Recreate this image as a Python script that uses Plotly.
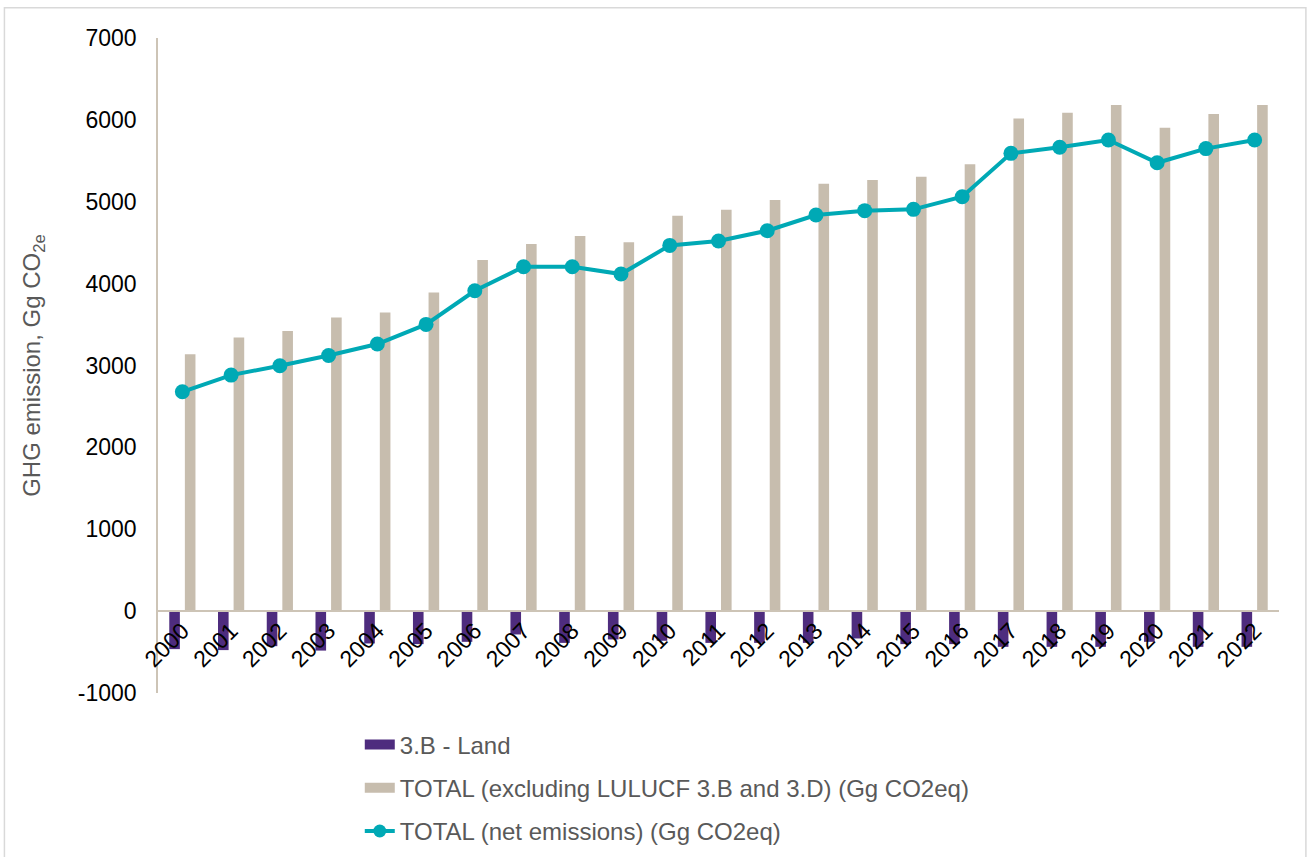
import plotly.graph_objects as go

# Annual greenhouse gas inventory, Gg CO2 equivalent
years = [str(y) for y in range(2000, 2023)]
land_3b = [-464, -476, -428, -482, -395, -403, -375, -285, -388, -346, -362,
           -388, -388, -388, -334, -403, -403, -436, -436, -436, -375, -436, -436]
total_excl_lulucf = [3136, 3343, 3420, 3587, 3648, 3893, 4288, 4483, 4581, 4504, 4829,
                     4903, 5021, 5220, 5265, 5306, 5457, 6018, 6087, 6181, 5904, 6071, 6181]
total_net = [2679, 2883, 2997, 3123, 3262, 3502, 3913, 4206, 4206, 4117, 4467,
             4520, 4646, 4838, 4891, 4907, 5061, 5591, 5665, 5754, 5476, 5649, 5754]

y_tick_values = [-1000, 0, 1000, 2000, 3000, 4000, 5000, 6000, 7000]
y_tick_labels = ["-1000", "0", "1000", "2000", "3000", "4000", "5000", "6000", "7000"]

names = ["3.B - Land",
         "TOTAL (excluding LULUCF 3.B and 3.D) (Gg CO2eq)",
         "TOTAL (net emissions) (Gg CO2eq)"]

PURPLE = "#4E2C7E"
BEIGE = "#C7BDAE"
TEAL = "#00A9B5"
AXIS = "#CDC4B6"
FONT = "Liberation Sans, Arial, sans-serif"

fig = go.Figure()
fig.add_trace(go.Bar(x=years, y=land_3b, name=names[0], marker_color=PURPLE,
                     marker_line_width=0, showlegend=False))
fig.add_trace(go.Bar(x=years, y=total_excl_lulucf, name=names[1], marker_color=BEIGE,
                     marker_line_width=0, showlegend=False))
fig.add_trace(go.Scatter(x=years, y=total_net, name=names[2], mode="lines+markers",
                         line=dict(color=TEAL, width=4),
                         marker=dict(color=TEAL, size=15), showlegend=False))

# Legend entries with wide flat swatches
fig.add_trace(go.Scatter(x=[None], y=[None], name=names[0], mode="lines",
                         line=dict(color=PURPLE, width=13), legendgroup="a"))
fig.add_trace(go.Scatter(x=[None], y=[None], name=names[1], mode="lines",
                         line=dict(color=BEIGE, width=13), legendgroup="b"))
fig.add_trace(go.Scatter(x=[None], y=[None], name=names[2], mode="lines+markers",
                         line=dict(color=TEAL, width=4),
                         marker=dict(color=TEAL, size=13), legendgroup="c"))

fig.update_layout(
    width=1309, height=857,
    margin=dict(l=158, r=30, t=38, b=164, autoexpand=False),
    paper_bgcolor="white", plot_bgcolor="white",
    font=dict(family=FONT, size=23, color="black"),
    barmode="group", bargap=0.36, bargroupgap=0.32,
    legend=dict(x=0.18, y=-0.045, xanchor="left", yanchor="top",
                orientation="v", tracegroupgap=9,
                font=dict(family=FONT, size=24, color="#595959"),
                bgcolor="rgba(0,0,0,0)"),
    xaxis=dict(type="category", range=[-0.5, 22.5], anchor="free", position=0.125,
               automargin=False,
               showline=True, linecolor=AXIS, linewidth=2,
               ticks="", tickangle=-45, ticklabelstandoff=-4,
               showgrid=False, zeroline=False,
               tickfont=dict(family=FONT, size=23, color="black")),
    yaxis=dict(range=[-1000, 7000], tickvals=y_tick_values, ticktext=y_tick_labels,
               automargin=False,
               showline=True, linecolor=AXIS, linewidth=1.5,
               ticks="", showgrid=False, zeroline=False,
               ticklabelstandoff=15,
               tickfont=dict(family=FONT, size=23, color="black"),
               title=dict(text="GHG emission, Gg CO<sub>2e</sub>",
                          font=dict(family=FONT, size=24, color="#595959"),
                          standoff=30)),
    shapes=[dict(type="rect", xref="paper", yref="paper",
                 x0=-0.137, x1=1.024, y0=-0.5, y1=1.046,
                 line=dict(color="#D9D9D9", width=1.5), layer="below")],
)

fig.write_html("out.html")
